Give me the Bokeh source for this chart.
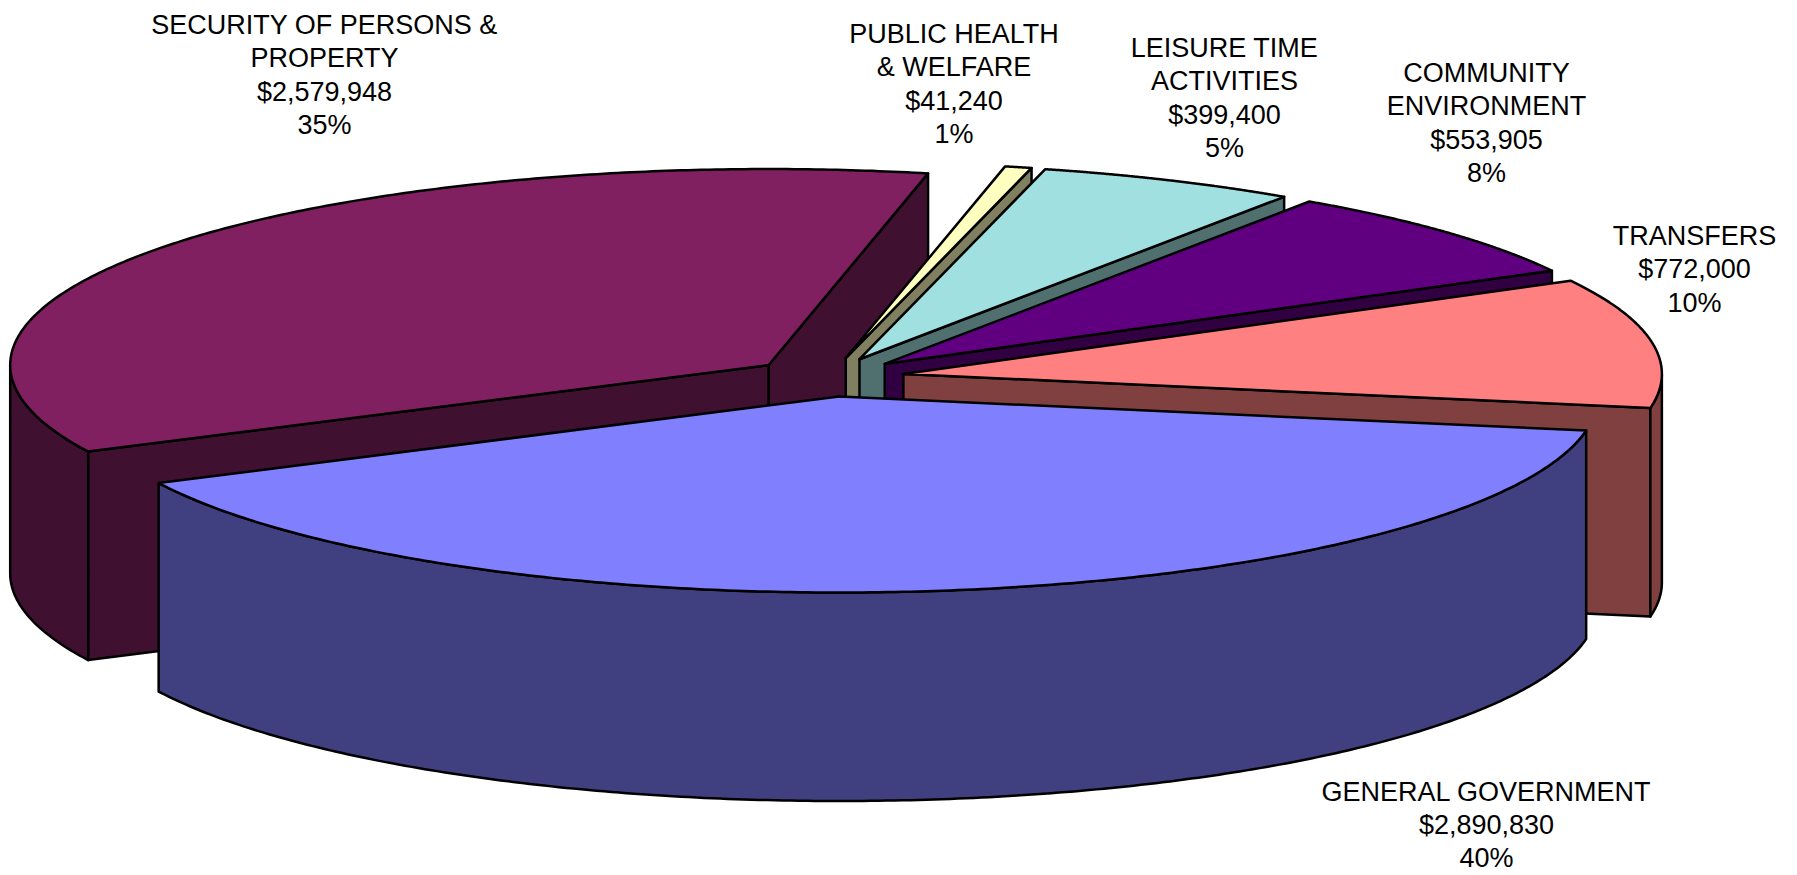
import numpy as np
from bokeh.plotting import figure
from bokeh.models import Range1d, ColumnDataSource
from bokeh.core.properties import value
from bokeh.embed import file_html
from bokeh.resources import INLINE

# ---- data (clockwise from the front slice) ----
categories = ["GENERAL GOVERNMENT", "SECURITY OF PERSONS & PROPERTY",
              "PUBLIC HEALTH & WELFARE", "LEISURE TIME ACTIVITIES",
              "COMMUNITY ENVIRONMENT", "TRANSFERS"]
label_names = [["GENERAL GOVERNMENT"], ["SECURITY OF PERSONS &", "PROPERTY"],
               ["PUBLIC HEALTH", "& WELFARE"], ["LEISURE TIME", "ACTIVITIES"],
               ["COMMUNITY", "ENVIRONMENT"], ["TRANSFERS"]]
values = [2890830, 2579948, 41240, 399400, 553905, 772000]
percent_labels = ["40%", "35%", "1%", "5%", "8%", "10%"]

top_colors = ["#8080FF", "#802060", "#FFFFC0", "#A0E0E0", "#600080", "#FF8080"]
wall_colors = ["#404080", "#401030", "#808060", "#507070", "#300040", "#804040"]

# ---- geometry of the projected pie, in page pixels ----
CX, CY = 828.0, 376.6
RX, RY = 758.5, 196.0
DEPTH = 208.5
EXPLODE = 0.10
START_DEG = 10.0

label_cx = [1486, 324, 953.5, 1224, 1486, 1694]
label_first_baseline = [791, 24.5, 33.5, 47.5, 72.5, 235.5]
LINE_STEP = 33.4

total = sum(values)
spans = [v / total * 360.0 for v in values]
starts = np.concatenate([[START_DEG], START_DEG + np.cumsum(spans)[:-1]])

xs, ys, fills = [], [], []


def add(px, py, col):
    xs.append(list(map(float, px)))
    ys.append(list(map(float, py)))
    fills.append(col)


for i in [1, 2, 3, 4, 5, 0]:  # back to front
    t0, t1 = starts[i], starts[i] + spans[i]
    mid = np.radians((t0 + t1) / 2)
    ax = CX + EXPLODE * RX * np.cos(mid)
    ay = CY + EXPLODE * RY * np.sin(mid)

    def rim(deg):
        r = np.radians(deg)
        return ax + RX * np.cos(r), ay + RY * np.sin(r)

    for t, sign in ((t0, -1), (t1, 1)):  # straight cut walls facing the viewer
        if sign * np.cos(np.radians(t)) > 0:
            rx_, ry_ = rim(t)
            add([ax, rx_, rx_, ax], [ay, ry_, ry_ + DEPTH, ay + DEPTH], wall_colors[i])

    ts = np.linspace(t0, t1, 240)
    extra = [a for a in (180.0, 360.0) if t0 < a < t1]
    ts = np.union1d(ts, extra)
    front = ts[np.sin(np.radians(ts)) >= -1e-9]
    if len(front) > 1:  # outer rim wall
        fx, fy = rim(front)
        add(np.concatenate([fx, fx[::-1]]),
            np.concatenate([fy, fy[::-1] + DEPTH]), wall_colors[i])

    tx, ty = rim(ts)  # top face
    add(np.concatenate([[ax], tx]), np.concatenate([[ay], ty]), top_colors[i])

p = figure(width=1797, height=875, output_backend="svg", toolbar_location=None,
           x_range=Range1d(0, 1797), y_range=Range1d(875, 0),
           min_border=0, outline_line_color=None, background_fill_color="white",
           border_fill_color="white")
p.axis.visible = False
p.grid.visible = False
p.xaxis.visible = False
p.yaxis.visible = False

p.patches(xs="xs", ys="ys", fill_color="fills", line_color="black", line_width=2.5,
          line_join="round", source=ColumnDataSource(dict(xs=xs, ys=ys, fills=fills)))

tx_, ty_, tt_ = [], [], []
for i, names in enumerate(label_names):
    lines = names + [f"${values[i]:,}", percent_labels[i]]
    for j, s in enumerate(lines):
        tx_.append(label_cx[i])
        ty_.append(label_first_baseline[i] + j * LINE_STEP)
        tt_.append(s)

p.text(x="x", y="y", text="t", source=ColumnDataSource(dict(x=tx_, y=ty_, t=tt_)),
       text_font=value("Liberation Sans"), text_font_size="27px", text_color="black",
       text_align="center", text_baseline="alphabetic")

open("out.html", "w").write(file_html(p, INLINE))
